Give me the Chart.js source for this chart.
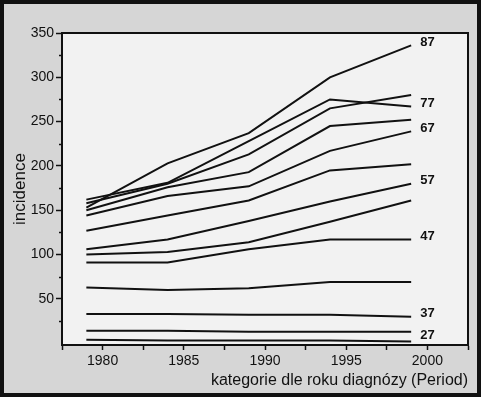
<!DOCTYPE html>
<html>
<head>
<meta charset="utf-8">
<script src="https://cdn.jsdelivr.net/npm/chart.js@4.4.1/dist/chart.umd.min.js"></script>
<style>
  html, body { margin: 0; padding: 0; background: #fff; }
  #wrap { width: 481px; height: 397px; }
</style>
</head>
<body>
<div id="wrap"><canvas id="incChart" width="481" height="397"></canvas></div>
<script>
// období diagnózy (střed kategorie)
const periods = [1979, 1984, 1989, 1994, 1999];

// incidence podle věkové skupiny
const inc87 = [153, 203, 237, 300, 336];
const inc82 = [158, 180, 213, 265, 280];
const inc77 = [162, 181, 228, 275, 267];
const inc72 = [150, 176, 193, 245, 252];
const inc67 = [144, 166, 177, 217, 239];
const inc62 = [127, 144, 161, 195, 202];
const inc57 = [106, 117, 138, 160, 180];
const inc52 = [100, 103, 114, 137, 161];
const inc47 = [91, 91, 106, 117, 117];
const inc42 = [63, 60, 62, 69, 69];
const inc37 = [33, 33, 32, 32, 30];
const inc32 = [14, 14, 13, 13, 13];
const inc27 = [4, 3, 3, 3, 2];

const ages = [87, 82, 77, 72, 67, 62, 57, 52, 47, 42, 37, 32, 27];
const series = [inc87, inc82, inc77, inc72, inc67, inc62, inc57, inc52, inc47, inc42, inc37, inc32, inc27];
const labeledAges = [87, 77, 67, 57, 47, 37, 27];

// osy
const xTicks = [1977.5, 1980, 1982.5, 1985, 1987.5, 1990, 1992.5, 1995, 1997.5, 2000, 2002.5];
const yMajorTicks = [50, 100, 150, 200, 250, 300, 350];
const yMinorTicks = [25, 75, 125, 175, 225, 275, 325];

const FONT = "'Liberation Sans', Arial, sans-serif";
const INK = "#111";

// pozadí, rámeček a vedlejší značky
const framePlugin = {
  id: "frame",
  beforeDraw(chart) {
    const { ctx, chartArea: a, width, height } = chart;
    ctx.save();
    ctx.fillStyle = "#d6d6d6";
    ctx.fillRect(0, 0, width, height);
    ctx.fillStyle = "#f2f2f2";
    ctx.fillRect(a.left, a.top, a.right - a.left, a.bottom - a.top);
    ctx.restore();
  },
  afterDraw(chart) {
    const { ctx, chartArea: a, width, height } = chart;
    const y = chart.scales.y;
    ctx.save();
    ctx.strokeStyle = INK;
    ctx.lineWidth = 2;
    ctx.strokeRect(a.left, a.top, a.right - a.left, a.bottom - a.top);
    ctx.lineWidth = 1.5;
    yMinorTicks.forEach((v) => {
      const py = Math.round(y.getPixelForValue(v)) + 0.5;
      ctx.beginPath();
      ctx.moveTo(a.left - 3, py);
      ctx.lineTo(a.left, py);
      ctx.stroke();
    });
    ctx.lineWidth = 4;
    ctx.strokeRect(2, 2, width - 4, height - 4);
    ctx.restore();
  },
};

// popisky věku na konci čar
const ageLabelPlugin = {
  id: "ageLabels",
  afterDatasetsDraw(chart) {
    const { ctx, chartArea: a } = chart;
    ctx.save();
    ctx.font = "bold 13px " + FONT;
    ctx.fillStyle = INK;
    ctx.textAlign = "left";
    ctx.textBaseline = "middle";
    chart.data.datasets.forEach((ds, i) => {
      if (!labeledAges.includes(ds.age)) return;
      const pts = chart.getDatasetMeta(i).data;
      const last = pts[pts.length - 1];
      const ty = Math.min(last.y - 3, a.bottom - 10);
      ctx.fillText(String(ds.age), last.x + 9, ty);
    });
    ctx.restore();
  },
};

const datasets = ages.map((age, i) => ({
  label: String(age),
  age: age,
  data: periods.map((p, j) => ({ x: p, y: series[i][j] })),
  borderColor: INK,
  borderWidth: 2,
  pointRadius: 0,
  tension: 0,
  fill: false,
}));

const ctx = document.getElementById("incChart").getContext("2d");
new Chart(ctx, {
  type: "line",
  data: { datasets: datasets },
  options: {
    responsive: false,
    devicePixelRatio: 1,
    animation: false,
    layout: { padding: { top: 33, right: 13, left: 0, bottom: 0 } },
    plugins: {
      legend: { display: false },
      tooltip: { enabled: false },
    },
    scales: {
      x: {
        type: "linear",
        min: 1977.5,
        max: 2002.5,
        afterBuildTicks: (s) => {
          s.ticks = xTicks.map((v) => ({ value: v }));
        },
        afterFit: (s) => {
          s.height = 52;
        },
        grid: { drawOnChartArea: false, tickLength: 5, tickColor: INK, tickWidth: 1.5 },
        border: { display: true, color: INK, width: 2 },
        ticks: {
          autoSkip: false,
          maxRotation: 0,
          padding: 3,
          color: INK,
          font: { family: FONT, size: 14 },
          callback: (v) => (v % 5 === 0 ? String(v) : ""),
        },
        title: {
          display: true,
          text: "kategorie dle roku diagnózy (Period)",
          align: "end",
          color: INK,
          font: { family: FONT, size: 16 },
          padding: { top: 0, bottom: 7 },
        },
      },
      y: {
        min: -2,
        max: 350,
        afterBuildTicks: (s) => {
          s.ticks = yMajorTicks.map((v) => ({ value: v }));
        },
        afterFit: (s) => {
          s.width = 62;
        },
        grid: { drawOnChartArea: false, tickLength: 6, tickColor: INK, tickWidth: 1.5 },
        border: { display: true, color: INK, width: 2 },
        ticks: {
          padding: 2,
          color: INK,
          font: { family: FONT, size: 14 },
        },
        title: {
          display: true,
          text: "incidence",
          color: INK,
          font: { family: FONT, size: 17 },
          padding: { top: 10, bottom: 0 },
        },
      },
    },
  },
  plugins: [framePlugin, ageLabelPlugin],
});
</script>
</body>
</html>
